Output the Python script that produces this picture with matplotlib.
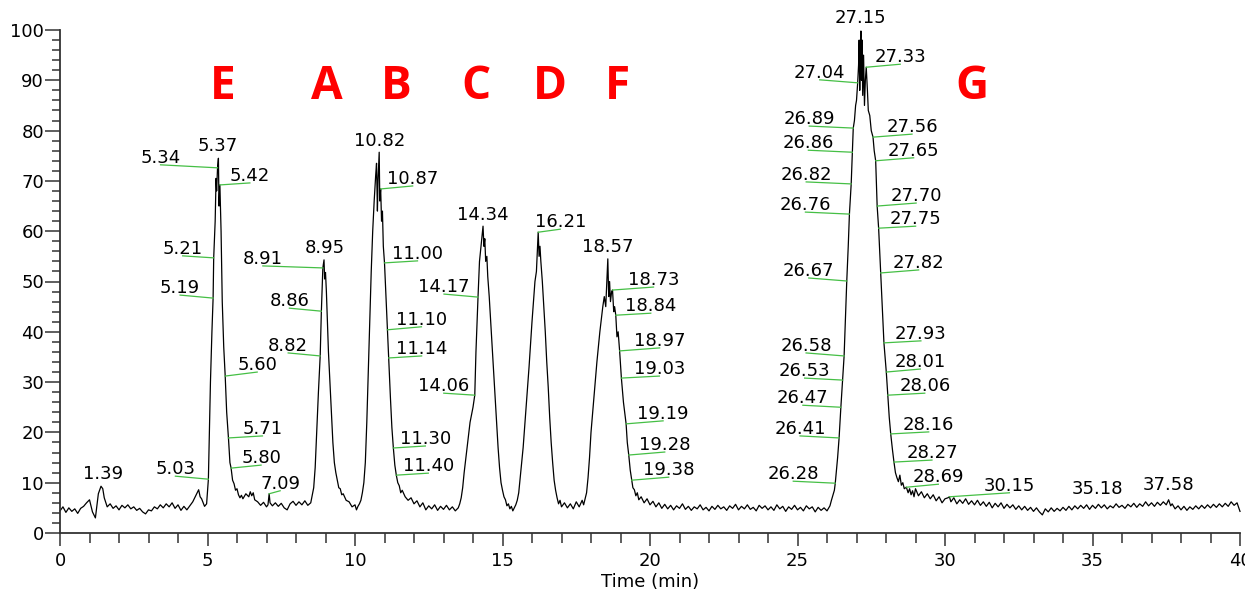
import numpy as np
import matplotlib
matplotlib.use('Agg')
import matplotlib.pyplot as plt
from matplotlib.lines import Line2D
from matplotlib.transforms import IdentityTransform

plt.rcParams['font.family'] = ['DejaVu Sans']

# chromatogram trace, (time min, relative abundance)
lead_in = [
    (0.0, 4.4), (0.1, 5.2), (0.2, 4.1), (0.3, 5.0), (0.4, 4.3), (0.5, 4.8), (0.6, 3.9), (0.7, 4.9),
    (0.8, 5.3), (0.9, 6.0), (1.0, 6.6), (1.1, 4.2), (1.2, 3.0), (1.3, 7.8), (1.39, 9.3), (1.45, 8.8),
    (1.5, 7.0), (1.6, 5.2), (1.7, 5.8), (1.8, 4.9), (1.9, 5.4), (2.0, 4.6), (2.1, 5.5), (2.2, 5.0),
    (2.3, 5.6), (2.4, 4.8), (2.5, 5.2), (2.6, 4.5), (2.7, 4.9), (2.8, 4.2), (2.9, 3.8), (3.0, 4.6),
    (3.1, 4.4), (3.2, 5.2), (3.3, 4.8), (3.4, 5.6), (3.5, 5.0), (3.6, 5.8), (3.7, 5.2), (3.8, 6.0),
    (3.9, 4.9), (4.0, 5.6), (4.1, 4.5), (4.2, 5.3), (4.3, 4.6), (4.4, 5.4), (4.5, 6.2), (4.6, 7.4),
    (4.7, 8.6), (4.75, 7.2), (4.8, 6.8), (4.9, 5.3), (4.97, 5.8),
]
peak_E = [
    (5.03, 10.7), (5.1, 30), (5.15, 40), (5.19, 46.7), (5.21, 54.7), (5.26, 62), (5.29, 70.5),
    (5.31, 68), (5.34, 72.6), (5.37, 74.5), (5.39, 65), (5.42, 69.2), (5.46, 60), (5.5, 46),
    (5.55, 37), (5.6, 31.2), (5.65, 24), (5.71, 18.9), (5.76, 14), (5.80, 12.9), (5.85, 10.5),
    (5.9, 9.8), (5.95, 8.5), (6.0, 8.8), (6.05, 7.6), (6.1, 7.0), (6.15, 7.5), (6.2, 6.8),
    (6.3, 7.8), (6.4, 7.2), (6.45, 8.2), (6.5, 7.4), (6.55, 8.0), (6.6, 6.6), (6.7, 6.2),
    (6.8, 5.5), (6.9, 6.1), (7.0, 5.2), (7.05, 5.6), (7.09, 7.8), (7.12, 6.0), (7.2, 5.4),
    (7.3, 6.0), (7.4, 5.3), (7.5, 5.9), (7.6, 5.0), (7.7, 4.6), (7.8, 5.8), (7.9, 6.3),
    (8.0, 5.5), (8.1, 6.2), (8.2, 5.6), (8.3, 6.4), (8.4, 5.5), (8.5, 6.0),
]
peak_A = [
    (8.55, 7.5), (8.6, 9.0), (8.65, 13), (8.7, 20), (8.76, 28), (8.82, 35.2), (8.86, 44.1),
    (8.91, 52.7), (8.95, 54.3), (8.97, 50.5), (9.0, 51.8), (9.03, 48), (9.06, 43), (9.1, 36),
    (9.15, 30), (9.2, 24), (9.25, 18), (9.3, 14), (9.35, 12), (9.4, 10.5), (9.45, 9.0),
    (9.5, 8.8), (9.55, 7.6), (9.6, 7.8), (9.7, 6.5), (9.8, 6.2), (9.9, 5.2), (10.0, 5.6),
    (10.05, 4.6), (10.1, 5.3), (10.15, 5.8),
]
peak_B = [
    (10.2, 6.5), (10.25, 8), (10.3, 10), (10.35, 14), (10.4, 22), (10.45, 32), (10.5, 42),
    (10.55, 52), (10.6, 60), (10.65, 66), (10.7, 71), (10.73, 73.5), (10.76, 64), (10.78, 70),
    (10.82, 75.7), (10.84, 66), (10.87, 68.4), (10.9, 62), (10.93, 64), (10.96, 57), (11.00, 53.7),
    (11.05, 47), (11.10, 40.4), (11.14, 34.8), (11.2, 27), (11.25, 21), (11.30, 16.9),
    (11.35, 13.5), (11.40, 11.5), (11.45, 10), (11.5, 9.4), (11.55, 8.0), (11.6, 8.5),
    (11.7, 7.2), (11.8, 6.5), (11.9, 7.0), (12.0, 5.8), (12.1, 6.4), (12.2, 5.2), (12.3, 6.0),
    (12.4, 4.6), (12.5, 5.4), (12.6, 4.8), (12.7, 5.6), (12.8, 4.5), (12.9, 5.3), (13.0, 4.7),
    (13.1, 5.5), (13.2, 4.6), (13.3, 5.2), (13.4, 4.4), (13.5, 5.0),
]
peak_C = [
    (13.55, 5.8), (13.6, 7), (13.65, 9), (13.7, 12), (13.8, 17), (13.9, 22), (14.0, 25),
    (14.06, 27.4), (14.1, 36), (14.17, 46.9), (14.22, 54), (14.27, 57), (14.3, 59), (14.34, 61.0),
    (14.37, 57), (14.4, 58.5), (14.43, 54), (14.47, 55), (14.5, 51), (14.55, 47), (14.6, 42),
    (14.65, 37), (14.7, 32), (14.75, 27), (14.8, 22), (14.85, 17), (14.9, 13), (14.95, 10),
    (15.0, 8.5), (15.05, 7.2), (15.1, 6.6), (15.15, 5.4), (15.2, 5.8), (15.25, 4.8), (15.3, 5.3),
    (15.35, 4.4), (15.4, 5.0), (15.45, 5.6),
]
peak_D = [
    (15.5, 6.5), (15.55, 8), (15.6, 11), (15.7, 17), (15.8, 25), (15.9, 33), (16.0, 42),
    (16.05, 46), (16.1, 50), (16.15, 52), (16.21, 59.8), (16.24, 55), (16.27, 57), (16.3, 54),
    (16.35, 50), (16.4, 45), (16.45, 40), (16.5, 34), (16.55, 29), (16.6, 23), (16.65, 18),
    (16.7, 14), (16.75, 10.5), (16.8, 8.5), (16.85, 7.0), (16.9, 5.8), (16.95, 6.5), (17.0, 5.2),
    (17.1, 6.0), (17.2, 5.0), (17.3, 5.8), (17.4, 4.8), (17.5, 6.2), (17.6, 5.2), (17.7, 6.5),
    (17.75, 5.6),
]
peak_F = [
    (17.8, 6.8), (17.85, 8), (17.9, 11), (17.95, 15), (18.0, 20), (18.1, 27), (18.2, 34),
    (18.3, 40), (18.4, 45), (18.45, 47), (18.5, 45), (18.53, 49), (18.57, 54.5), (18.6, 47),
    (18.63, 50), (18.66, 46), (18.7, 48), (18.73, 48.3), (18.77, 44), (18.8, 45), (18.84, 43.3),
    (18.88, 39), (18.92, 40), (18.97, 36.2), (19.03, 30.8), (19.1, 26), (19.19, 21.7),
    (19.23, 18), (19.28, 15.5), (19.33, 12.5), (19.38, 10.5), (19.42, 9.0), (19.47, 8.6),
    (19.52, 7.4), (19.57, 8.0), (19.62, 6.6), (19.7, 7.2), (19.8, 6.0), (19.9, 6.8),
]
gap_FG = [
    (20.0, 5.6), (20.1, 6.3), (20.2, 5.2), (20.3, 6.0), (20.4, 4.9), (20.5, 5.7), (20.6, 4.8),
    (20.7, 5.5), (20.8, 4.6), (20.9, 5.4), (21.0, 4.9), (21.1, 5.8), (21.2, 4.7), (21.3, 5.3),
    (21.4, 4.5), (21.5, 5.2), (21.6, 4.8), (21.7, 5.6), (21.8, 4.6), (21.9, 5.1), (22.0, 4.4),
    (22.1, 5.3), (22.2, 4.7), (22.3, 5.5), (22.4, 4.8), (22.5, 5.2), (22.6, 4.5), (22.7, 5.4),
    (22.8, 4.9), (22.9, 5.7), (23.0, 4.6), (23.1, 5.3), (23.2, 4.8), (23.3, 5.6), (23.4, 4.7),
    (23.5, 5.1), (23.6, 4.4), (23.7, 5.5), (23.8, 4.9), (23.9, 5.4), (24.0, 4.6), (24.1, 5.2),
    (24.2, 4.5), (24.3, 5.6), (24.4, 4.8), (24.5, 5.3), (24.6, 4.3), (24.7, 5.2), (24.8, 4.7),
    (24.9, 5.5), (25.0, 4.6), (25.1, 5.1), (25.2, 4.4), (25.3, 5.4), (25.4, 4.8), (25.5, 5.2),
    (25.6, 4.2), (25.7, 5.1), (25.8, 4.5), (25.9, 5.0), (26.0, 4.4),
]
peak_G = [
    (26.1, 5.4), (26.15, 6.5), (26.2, 7.5), (26.25, 8.5), (26.28, 9.9), (26.32, 12.5),
    (26.36, 15), (26.41, 18.9), (26.47, 25.0), (26.53, 30.4), (26.58, 35.2), (26.62, 42),
    (26.67, 50.1), (26.72, 57), (26.76, 63.4), (26.82, 69.4), (26.86, 75.7), (26.89, 80.5),
    (26.93, 82), (26.97, 85), (27.0, 86), (27.04, 89.5), (27.07, 93), (27.09, 98), (27.11, 88),
    (27.13, 96), (27.15, 99.8), (27.17, 90), (27.19, 98), (27.21, 87), (27.24, 95), (27.27, 85),
    (27.3, 90), (27.33, 92.6), (27.37, 88), (27.4, 84), (27.45, 83), (27.5, 80), (27.56, 78.7),
    (27.6, 76), (27.65, 74.0), (27.7, 65.0), (27.75, 60.6), (27.82, 51.7), (27.88, 44),
    (27.93, 37.8), (28.01, 32.0), (28.06, 27.4), (28.11, 23), (28.16, 19.7), (28.22, 16.5),
    (28.27, 14.1), (28.32, 12.0), (28.37, 11.0), (28.42, 10.2), (28.47, 11.5), (28.52, 9.5),
    (28.57, 10.0), (28.62, 8.8), (28.69, 9.1), (28.75, 8.0), (28.8, 8.8), (28.85, 7.6),
    (28.9, 8.4), (28.95, 7.2), (29.0, 8.8), (29.1, 7.4), (29.2, 8.2), (29.3, 7.0), (29.4, 7.8),
    (29.5, 6.8), (29.6, 7.6), (29.7, 6.4), (29.8, 7.2), (29.9, 6.0), (30.0, 6.8), (30.1, 7.0),
    (30.15, 7.2), (30.2, 6.2), (30.3, 7.0), (30.4, 5.8),
]
tail = [
    (30.5, 6.6), (30.6, 5.9), (30.7, 6.8), (30.8, 5.7), (30.9, 6.4), (31.0, 5.6), (31.1, 6.5),
    (31.2, 5.5), (31.3, 6.2), (31.4, 5.3), (31.5, 6.1), (31.6, 5.0), (31.7, 5.9), (31.8, 5.2),
    (31.9, 6.0), (32.0, 4.9), (32.1, 5.7), (32.2, 5.0), (32.3, 5.6), (32.4, 4.7), (32.5, 5.4),
    (32.6, 4.6), (32.7, 5.3), (32.8, 4.5), (32.9, 5.1), (33.0, 4.3), (33.1, 5.0), (33.2, 4.2),
    (33.3, 3.6), (33.4, 4.8), (33.5, 4.2), (33.6, 5.0), (33.7, 4.3), (33.8, 4.9), (33.9, 4.4),
    (34.0, 5.1), (34.1, 4.5), (34.2, 5.3), (34.3, 4.6), (34.4, 5.4), (34.5, 4.8), (34.6, 5.5),
    (34.7, 4.9), (34.8, 5.6), (34.9, 4.7), (35.0, 5.5), (35.1, 4.9), (35.2, 5.7), (35.3, 5.0),
    (35.4, 5.6), (35.5, 4.8), (35.6, 5.4), (35.7, 5.0), (35.8, 5.8), (35.9, 5.1), (36.0, 5.5),
    (36.1, 4.9), (36.2, 5.7), (36.3, 5.2), (36.4, 5.9), (36.5, 5.1), (36.6, 5.8), (36.7, 5.3),
    (36.8, 6.2), (36.9, 5.4), (37.0, 6.0), (37.1, 5.3), (37.2, 6.1), (37.3, 5.5), (37.4, 6.2),
    (37.5, 5.6), (37.58, 6.6), (37.65, 5.4), (37.7, 5.8), (37.8, 4.8), (37.9, 5.4), (38.0, 4.6),
    (38.1, 5.3), (38.2, 4.5), (38.3, 5.2), (38.4, 4.7), (38.5, 5.4), (38.6, 4.8), (38.7, 5.5),
    (38.8, 4.9), (38.9, 5.6), (39.0, 5.0), (39.1, 5.7), (39.2, 5.1), (39.3, 5.8), (39.4, 5.2),
    (39.5, 5.9), (39.6, 5.3), (39.7, 6.2), (39.8, 5.5), (39.9, 6.0), (40.0, 4.3),
]

# retention time labels
label_text = [
    '1.39', '5.03', '5.19', '5.21', '5.34', '5.37', '5.42', '5.60', '5.71', '5.80', '7.09',
    '8.82', '8.86', '8.91', '8.95', '10.82', '10.87', '11.00', '11.10', '11.14', '11.30', '11.40',
    '14.06', '14.17', '14.34', '16.21', '18.57', '18.73', '18.84', '18.97', '19.03', '19.19',
    '19.28', '19.38', '26.28', '26.41', '26.47', '26.53', '26.58', '26.67', '26.76', '26.82',
    '26.86', '26.89', '27.04', '27.15', '27.33', '27.56', '27.65', '27.70', '27.75', '27.82',
    '27.93', '28.01', '28.06', '28.16', '28.27', '28.69', '30.15', '35.18', '37.58',
]
# end of the leader (pixels) from the label's point on the trace; text sits just above it
label_offset = [
    (2, 7), (-33, 3), (-33, 3), (-31, 2), (-57, 3), (-1, 7), (30, 2), (32, 4), (34, 2), (30, 3), (11, 3),
    (-32, 3), (-32, 3), (-60, 2), (1, 7), (0, 6), (32, 3), (33, 2), (34, 3), (33, 2), (32, 2), (32, 2),
    (-31, 2), (-34, 3), (0, 6), (22, 3), (0, 7), (41, 3), (35, 2), (40, 3), (38, 2), (37, 3),
    (36, 3), (37, 3), (-42, 2), (-39, 2), (-38, 2), (-38, 2), (-38, 3), (-38, 3), (-44, 2), (-45, 2),
    (-44, 2), (-44, 2), (-38, 3), (0, 8), (34, 3), (39, 3), (38, 3), (39, 3), (37, 2), (38, 3),
    (37, 2), (34, 3), (37, 2), (38, 2), (38, 2), (32, 3), (60, 4), (0, 11), (0, 10),
]
no_leader = {'1.39', '5.37', '8.95', '10.82', '14.34', '18.57', '27.15', '35.18', '37.58'}

compound_names = ['E', 'A', 'B', 'C', 'D', 'F', 'G']
compound_x = [5.5, 9.05, 11.4, 14.1, 16.6, 18.9, 30.9]

trace = lead_in + peak_E + peak_A + peak_B + peak_C + peak_D + peak_F + gap_FG + peak_G + tail
t = np.array([p[0] for p in trace])
s = np.array([p[1] for p in trace])

fig = plt.figure(figsize=(12.45, 5.96), dpi=100)
ax = fig.add_axes([60 / 1245, 63 / 596, 1180 / 1245, 503 / 596])
ax.set_xlim(0, 40)
ax.set_ylim(0, 100)

ax.plot(t, s, color='black', lw=0.9, clip_on=False)

green = '#45bf45'
for txt, (dx, dy) in zip(label_text, label_offset):
    x = float(txt)
    y = float(np.interp(x, t, s))
    if txt in no_leader:
        ax.annotate(txt, (x, y), xytext=(dx, dy), textcoords='offset pixels',
                    ha='center', va='baseline', fontsize=13)
        continue
    px, py = ax.transData.transform((x, y))
    ax.add_line(Line2D([px, px + dx], [py, py + dy], color=green, lw=0.9,
                       transform=IdentityTransform()))
    ax.annotate(txt, (x, y), xytext=(dx, dy + 2), textcoords='offset pixels',
                ha='center', va='baseline', fontsize=13)

for name, x in zip(compound_names, compound_x):
    ax.text(x, 86.3, name, color='red', fontsize=33, fontweight='bold',
            family=['Open Sans', 'DejaVu Sans'], ha='center', va='baseline')

ax.set_xticks(range(0, 41, 5))
ax.set_xticks(range(0, 41, 1), minor=True)
ax.set_yticks(range(0, 101, 10))
ax.set_yticks(range(0, 101, 2), minor=True)
ax.tick_params(axis='both', which='both', color='#333333', width=1.1, labelsize=13)
ax.tick_params(axis='x', which='major', length=9, pad=5)
ax.tick_params(axis='x', which='minor', length=7)
ax.tick_params(axis='y', which='major', length=11, pad=0.5)
ax.tick_params(axis='y', which='minor', length=6)
for side in ['top', 'right']:
    ax.spines[side].set_visible(False)
for side in ['left', 'bottom']:
    ax.spines[side].set_color('#333333')
    ax.spines[side].set_linewidth(1.3)

ax.set_xlabel('Time (min)', fontsize=13, labelpad=2)

fig.savefig('out.png', dpi=100)
